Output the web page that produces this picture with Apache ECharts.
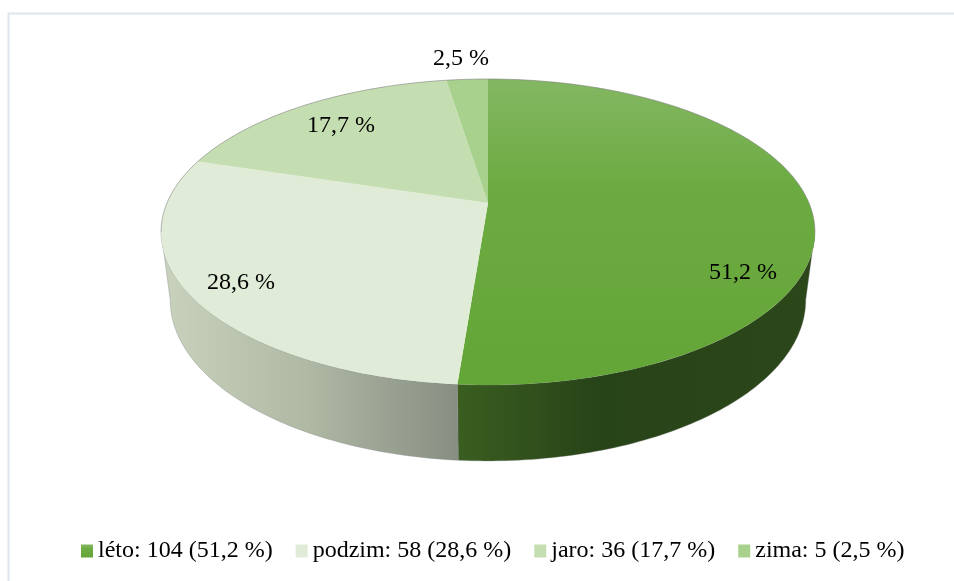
<!DOCTYPE html>
<html>
<head>
<meta charset="utf-8">
<script src="https://cdn.jsdelivr.net/npm/echarts@6/dist/echarts.min.js"></script>
<style>
  html, body { margin: 0; padding: 0; background: #fff; }
  #chart { width: 954px; height: 581px; }
</style>
</head>
<body>
<div id="chart"></div>
<script>
const seasons = ['léto', 'podzim', 'jaro', 'zima'];
const counts = [104, 58, 36, 5];
const percents = ['51,2', '28,6', '17,7', '2,5'];
const topColors = ['#70ad47', '#e0ecd8', '#c5deb1', '#a9d18e'];
const labelSpots = [[743, 273], [241, 283], [341, 126], [461, 59]];

const total = counts.reduce((a, b) => a + b, 0);
const LinearGradient = echarts.graphic.LinearGradient;

// perspective of the disc: apex of the slices sits above the ellipse centre
const cx = 488, apexY = 203, midY = 232;
const persp = 0.1895, scaleX = 321, scaleY = 147.5;
const footScaleX = 0.972, footScaleY = 1.052, footMidY = 300;
const silhouette = 100.9; // degrees where the top rim is widest

function rim(deg) {
  const t = deg * Math.PI / 180;
  const w = 1 + persp * Math.cos(t);
  return [cx + scaleX * Math.sin(t) / w, apexY - scaleY * Math.cos(t) / w];
}
function foot(deg) {
  const p = rim(deg);
  return [cx + footScaleX * (p[0] - cx), footMidY + footScaleY * (p[1] - midY)];
}
function arc(fn, from, to) {
  const pts = [];
  const n = Math.max(2, Math.ceil(Math.abs(to - from)));
  for (let i = 0; i <= n; i++) pts.push(fn(from + (to - from) * i / n));
  return pts;
}

const topFills = [
  new LinearGradient(0, 0, 0, 1, [
    { offset: 0, color: '#84b763' },
    { offset: 0.35, color: '#6cab41' },
    { offset: 1, color: '#64a537' }
  ]),
  topColors[1], topColors[2], topColors[3]
];
const wallFills = [
  new LinearGradient(0, 0, 1, 0, [
    { offset: 0, color: '#3a5e20' },
    { offset: 0.4, color: '#274318' },
    { offset: 1, color: '#2c4719' }
  ]),
  new LinearGradient(0, 0, 1, 0, [
    { offset: 0, color: '#c8d2bd' },
    { offset: 0.5, color: '#aeb8a3' },
    { offset: 1, color: '#878e82' }
  ])
];

let running = 0;
const series = seasons.map((name, i) => {
  const start = running / total * 360;
  running += counts[i];
  const end = running / total * 360;
  return {
    type: 'custom',
    name: `${name}: ${counts[i]} (${percents[i]} %)`,
    coordinateSystem: 'none',
    silent: true,
    itemStyle: { color: topFills[i] },
    data: [counts[i]],
    renderItem: () => {
      const children = [];
      // side wall, only the front part of the rim
      const wallFrom = Math.max(start, silhouette);
      const wallTo = Math.min(end, 360 - silhouette);
      if (wallTo > wallFrom) {
        children.push({
          type: 'polygon',
          z2: 1,
          shape: { points: arc(rim, wallFrom, wallTo).concat(arc(foot, wallTo, wallFrom)) },
          style: { fill: wallFills[i], stroke: 'rgba(130,130,130,0.35)', lineWidth: 1 }
        });
      }
      // top face
      children.push({
        type: 'polygon',
        z2: 2,
        shape: { points: [[cx, apexY]].concat(arc(rim, start, end)) },
        style: { fill: topFills[i] }
      });
      // thin grey rim along the back edge
      const backRanges = [[start, Math.min(end, silhouette)], [Math.max(start, 360 - silhouette), end]];
      backRanges.forEach(([a, b]) => {
        if (b > a) {
          children.push({
            type: 'polyline',
            z2: 3,
            shape: { points: arc(rim, a, b) },
            style: { fill: null, stroke: 'rgba(120,120,120,0.55)', lineWidth: 1 }
          });
        }
      });
      children.push({
        type: 'text',
        z2: 4,
        style: {
          x: labelSpots[i][0],
          y: labelSpots[i][1],
          text: `${percents[i]} %`,
          fill: '#000',
          font: '24px "Liberation Serif"',
          textAlign: 'center',
          textVerticalAlign: 'middle'
        }
      });
      return { type: 'group', children };
    }
  };
});

const chart = echarts.init(document.getElementById('chart'), null, { renderer: 'canvas' });
chart.setOption({
  backgroundColor: '#fff',
  animation: false,
  legend: {
    left: 81,
    top: 539,
    orient: 'horizontal',
    icon: 'rect',
    itemWidth: 12,
    itemHeight: 13,
    itemGap: 23,
    selectedMode: false,
    padding: 0,
    textStyle: { fontFamily: 'Liberation Serif', fontSize: 24, color: '#000' }
  },
  graphic: [
    {
      type: 'polyline',
      silent: true,
      shape: { points: [[8.5, 581], [8.5, 13.5], [954, 13.5]] },
      style: { fill: null, stroke: '#dfe5ec', lineWidth: 2 }
    }
  ],
  series
});
</script>
</body>
</html>
